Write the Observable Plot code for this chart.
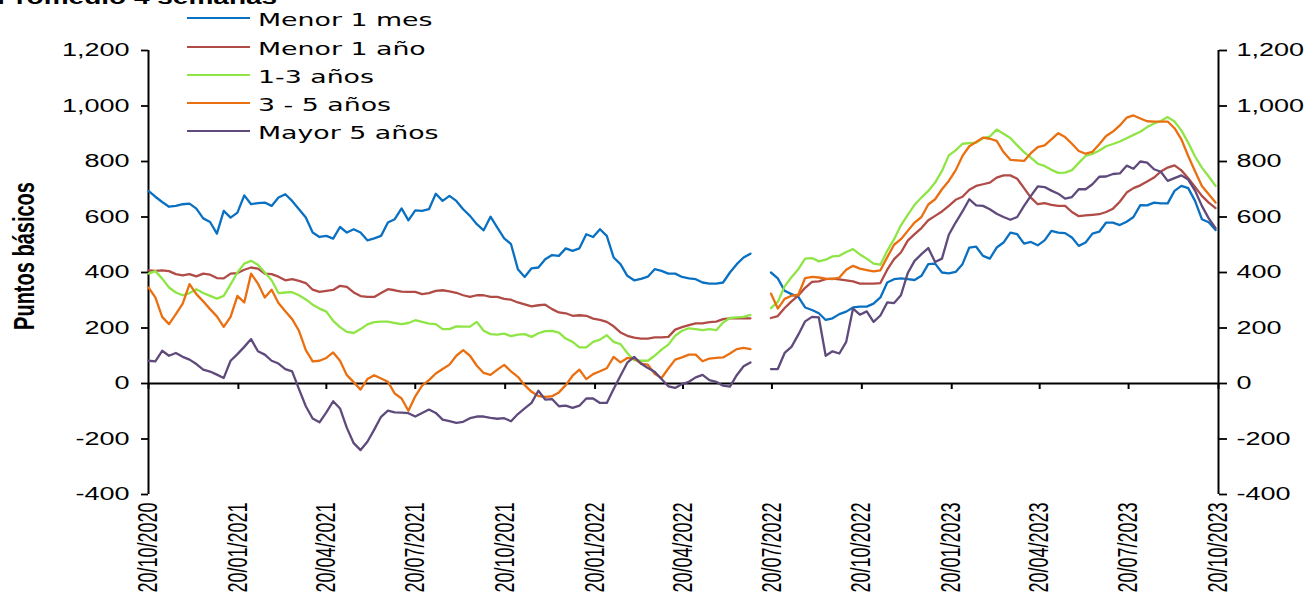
<!DOCTYPE html>
<html><head><meta charset="utf-8">
<script src="https://cdn.jsdelivr.net/npm/d3@7"></script>
<script src="https://cdn.jsdelivr.net/npm/@observablehq/plot@0.6"></script>
<style>
html,body{margin:0;padding:0;background:#fff;overflow:hidden}
#wrap{position:relative;width:1313px;height:599px}
#wrap svg{display:block}
#title{position:absolute;left:-3px;top:-13px;font:bold 20px "Liberation Sans",Arial,sans-serif;line-height:20px;transform:scaleX(1.4);transform-origin:0 0;white-space:nowrap;color:#000}
#legend{position:absolute;left:187px;top:0;font:17.5px "DejaVu Sans",sans-serif;color:#000}
.row{position:absolute;left:0;height:20px;width:300px;white-space:nowrap}
.sw{position:absolute;left:0;top:9px;width:63px;height:2px}
.lt{position:absolute;left:71px;top:2px;line-height:20px;transform:scaleX(1.53);transform-origin:0 50%}
</style></head><body>
<div id="wrap"><div id="title">Promedio 4 semanas</div><div id="legend"></div></div>
<script>
// Quarter tick labels (x axis)
const tickLabels = ["20/10/2020","20/01/2021","20/04/2021","20/07/2021","20/10/2021","20/01/2022","20/04/2022","20/07/2022","20/10/2022","20/01/2023","20/04/2023","20/07/2023","20/10/2023"];
const yTicks = [-400,-200,0,200,400,600,800,1000,1200];
const seriesNames = ["Menor 1 mes","Menor 1 año","1-3 años","3 - 5 años","Mayor 5 años"];
const colors = ["#0a70c2","#b04b46","#8fe545","#ea6f10","#5f4a7c"];

// Weekly values (basis points), starting 20/10/2020; null = no data
const menor1mes = [694,673,654,637,640,646,648,630,595,582,540,622,598,616,678,646,650,652,640,670,682,658,628,598,544,528,532,522,564,544,556,544,
516,523,532,580,592,631,588,624,622,628,684,658,676,658,628,604,574,552,601,562,523,502,412,384,415,418,448,463,460,487,
478,487,538,528,556,532,454,430,388,372,377,385,412,406,396,396,384,379,376,364,360,360,364,400,430,454,468,
null,null,
400,379,334,322,312,274,265,253,229,235,250,259,274,277,277,288,310,364,376,379,376,373,388,430,432,400,397,402,430,490,493,460,450,
490,508,544,538,504,510,498,516,550,544,542,526,496,508,540,547,580,580,571,583,600,643,642,652,649,649,694,712,704,658,592,581,553];

const menor1ano = [408,406,408,405,394,390,394,386,396,392,380,379,396,398,410,418,414,396,394,385,372,376,370,362,338,330,334,337,352,348,328,315,
312,312,326,340,336,331,330,330,322,326,334,336,332,327,318,312,318,318,312,312,305,302,292,285,278,282,284,268,256,253,
244,246,244,234,229,222,206,184,172,165,162,162,166,166,168,194,203,210,217,217,221,223,232,235,235,235,235,
null,null,
236,243,272,296,317,345,366,368,376,378,375,372,368,360,360,360,362,410,448,472,515,538,560,588,604,620,640,662,673,698,712,718,724,
742,750,750,738,704,670,646,650,644,640,640,618,603,606,608,610,618,630,655,688,704,714,728,742,764,778,786,768,740,708,676,652,632];

const anos1a3 = [396,405,378,346,328,318,326,340,326,316,306,316,357,400,432,442,428,400,372,326,328,329,318,303,284,270,259,226,203,186,182,196,
213,221,223,223,218,214,218,228,222,216,214,196,196,206,205,205,222,190,178,176,180,171,176,178,168,181,189,190,183,162,
150,130,130,150,158,174,150,142,110,84,82,82,100,122,140,172,190,199,196,192,196,192,220,236,238,240,247,
null,null,
272,294,350,383,412,450,452,440,446,458,460,474,484,465,450,432,428,478,520,570,608,644,670,694,724,766,822,840,864,866,868,884,890,
915,900,885,858,834,814,792,784,770,759,760,769,795,820,827,840,855,863,872,884,896,907,924,937,946,960,944,912,868,818,778,746,712];

const anos3a5 = [346,310,240,214,250,288,358,322,296,268,242,204,240,316,292,396,360,310,338,290,260,232,190,120,80,82,92,112,82,30,5,-22,
16,30,18,6,-36,-54,-98,-46,-8,12,36,52,68,100,120,100,64,38,31,50,67,44,24,-6,-30,-45,-48,-46,-32,-6,
28,50,16,34,44,55,96,76,92,90,72,68,35,20,54,86,94,104,104,80,90,92,94,108,124,128,124,
null,null,
324,270,305,316,320,380,384,382,378,376,382,410,424,414,409,404,408,455,500,520,550,580,600,645,664,700,730,768,820,855,870,886,882,
874,834,806,804,802,830,852,858,880,902,888,864,838,828,835,862,892,908,930,958,966,955,945,944,944,944,920,880,820,765,712,682,652];

const mayor5 = [82,80,118,100,110,96,86,70,50,43,32,20,82,106,132,160,116,104,82,72,52,44,-20,-82,-126,-140,-104,-64,-90,-160,-215,-240,
-210,-166,-120,-98,-104,-105,-107,-119,-106,-94,-106,-130,-136,-142,-138,-125,-119,-119,-124,-127,-125,-136,-110,-90,-70,-26,-58,-56,-82,-80,
-88,-80,-54,-54,-70,-70,-20,28,75,96,72,56,42,16,-10,-16,-2,6,22,31,12,6,-8,-11,30,62,76,
null,null,
52,52,110,132,176,224,240,238,100,116,108,150,270,248,260,222,245,292,290,318,398,442,466,488,438,450,536,580,620,664,642,640,628,
612,600,590,600,640,676,710,708,695,684,666,672,700,700,718,745,746,755,757,785,774,800,796,772,763,730,740,750,735,695,640,595,560];

const seriesValues = [menor1mes, menor1ano, anos1a3, anos3a5, mayor5];

const parseDMY = s => { const [d, m, y] = s.split("/").map(Number); return new Date(Date.UTC(y, m - 1, d)); };
const tickDates = tickLabels.map(parseDMY);
const start = tickDates[0], end = tickDates[tickDates.length - 1];
const dates = menor1mes.map((_, i) => new Date(start.getTime() + i * 7 * 864e5));
const data = seriesNames.flatMap((name, k) => seriesValues[k].map((v, i) => ({name, date: dates[i], value: v})));

const fmt = d => d.toLocaleString("en-US");
const chart = Plot.plot({
  width: 1313, height: 599,
  marginLeft: 148, marginRight: 95, marginTop: 50, marginBottom: 105,
  style: {fontFamily: '"Liberation Sans", Arial, sans-serif', fontSize: "18px", color: "#000", background: "#fff"},
  x: {type: "utc", domain: [start, end]},
  y: {domain: [-400, 1200]},
  color: {domain: seriesNames, range: colors},
  marks: [
    Plot.axisY({anchor: "left", ticks: yTicks, tickFormat: fmt, tickSize: 7, tickPadding: 12, strokeWidth: 1.8, label: null}),
    Plot.axisY({anchor: "right", ticks: yTicks, tickFormat: fmt, tickSize: 8, tickPadding: 10, strokeWidth: 1.8, label: null}),
    Plot.axisX({anchor: "bottom", ticks: tickDates, tickFormat: d3.utcFormat("%d/%m/%Y"), tickSize: 0, tickPadding: 8, tickRotate: -90, label: null}),
    Plot.ruleY([0], {stroke: "#000", strokeWidth: 2}),
    Plot.ruleX(tickDates, {y1: 0, y2: 0, insetBottom: -6, stroke: "#000", strokeWidth: 2}),
    Plot.ruleX([start, end], {stroke: "#000", strokeWidth: 2}),
    Plot.line(data, {x: "date", y: "value", z: "name", stroke: "name", strokeWidth: 2.3})
  ]
});
const wrap = document.getElementById("wrap");
wrap.prepend(chart);
const svg = d3.select(chart);
svg.selectAll('g[aria-label="y-axis tick label"] text').each(function () {
  const L = this.getComputedTextLength();
  this.setAttribute("textLength", L * 1.5);
  this.setAttribute("lengthAdjust", "spacingAndGlyphs");
});
svg.selectAll('g[aria-label="x-axis tick label"]').attr("font-size", 27);
svg.selectAll('g[aria-label="x-axis tick label"] text').each(function () {
  const L = this.getComputedTextLength();
  this.setAttribute("textLength", L / 1.5);
  this.setAttribute("lengthAdjust", "spacingAndGlyphs");
});
const yl = svg.append("text")
  .attr("transform", "translate(34,256) rotate(-90)")
  .attr("text-anchor", "middle").attr("font-weight", "bold").attr("font-size", 30)
  .attr("fill", "#000").text("Puntos básicos");
yl.attr("textLength", yl.node().getComputedTextLength() / 1.5).attr("lengthAdjust", "spacingAndGlyphs");

// Legend
const legend = d3.select("#legend");
seriesNames.forEach((name, k) => {
  const row = legend.append("div").attr("class", "row").style("top", (8.3 + k * 28.2) + "px");
  row.append("div").attr("class", "sw").style("background", colors[k]);
  row.append("div").attr("class", "lt").text(name);
});
</script></body></html>
